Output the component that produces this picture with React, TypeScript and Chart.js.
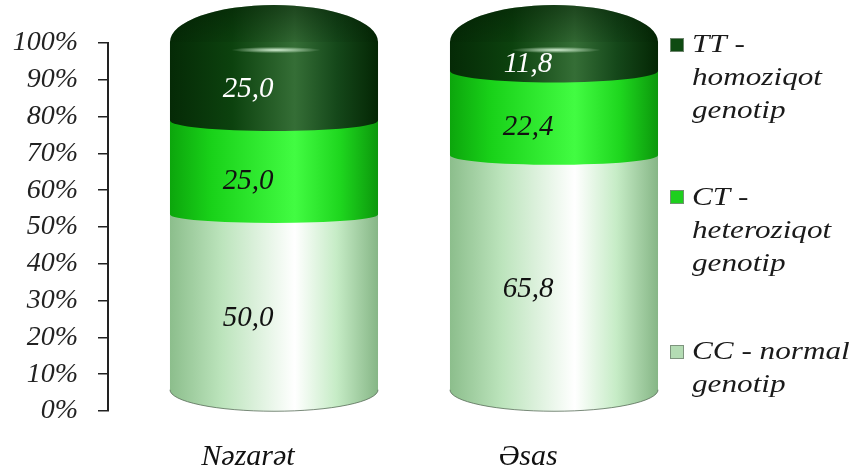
import React, { useEffect, useRef } from 'react';
import { Chart, registerables } from 'chart.js';

Chart.register(...registerables);

const categories = ['Nəzarət', 'Əsas'];
const ccValues = [50.0, 65.8];
const ctValues = [25.0, 22.4];
const ttValues = [25.0, 11.8];
const seriesNames = ['CC - normal genotip', 'CT - heteroziqot genotip', 'TT - homoziqot genotip'];
const legendLines = [
  ['TT -', 'homoziqot', 'genotip'],
  ['CT -', 'heteroziqot', 'genotip'],
  ['CC - normal', 'genotip'],
];
const legendBaselines = [
  [52, 85, 118],
  [205, 238, 271],
  [359, 392],
];
const legendMarkerY = [45, 197, 352];
const legendColors = ['#0f4a12', '#1ecf1e', '#b4dcb4'];

const DEPTH = 26;
const SERIF = "'Liberation Serif', 'Times New Roman', serif";

const stops: Array<Array<[number, string]>> = [
  [[0, '#8cbe8c'], [0.25, '#bce4bc'], [0.6, '#ffffff'], [0.8, '#c6ecc6'], [1, '#86b686']],
  [[0, '#0ca60c'], [0.2, '#19d219'], [0.6, '#42fc42'], [0.82, '#1ed61e'], [1, '#0c980c']],
  [[0, '#052a06'], [0.3, '#0c420e'], [0.6, '#356e36'], [0.8, '#15481a'], [1, '#042604']],
];
const textColors = ['#111', '#111', '#ffffff'];

function ryFor(v: number) {
  return v < 45 ? 8 + 0.3 * (45 - v) : 8 + 0.08 * (v - 45);
}

const cylinderPlugin = {
  id: 'cylinders',
  afterDatasetsDraw(chart: any) {
    const ctx = chart.ctx as CanvasRenderingContext2D;
    const n = chart.data.labels.length;
    const nd = chart.data.datasets.length;
    for (let i = 0; i < n; i++) {
      let cum = 0;
      for (let d = 0; d < nd; d++) {
        const el = chart.getDatasetMeta(d).data[i] as any;
        const val = chart.data.datasets[d].data[i] as number;
        const cx = el.x + DEPTH;
        const rx = el.width / 2;
        const vb = cum;
        const vt = cum + val;
        cum = vt;
        const ryb = ryFor(vb);
        const frontB = vb === 0 ? el.base + 1 : el.base - 4;
        const cb = frontB - ryb;
        const grad = ctx.createLinearGradient(cx - rx, 0, cx + rx, 0);
        stops[d].forEach(([o, c]) => grad.addColorStop(o, c));
        ctx.save();
        ctx.beginPath();
        const isTop = d === nd - 1;
        let ct: number;
        if (isTop) {
          ct = el.y - 1;
          ctx.moveTo(cx - rx, ct);
          ctx.lineTo(cx - rx, cb);
          ctx.ellipse(cx, cb, rx, ryb, 0, Math.PI, 0, true);
          ctx.lineTo(cx + rx, ct);
          ctx.ellipse(cx, ct, rx, 37, 0, 0, Math.PI, true);
        } else {
          const ryt = ryFor(vt);
          ct = el.y - 4 - ryt;
          ctx.moveTo(cx - rx, ct);
          ctx.lineTo(cx - rx, cb);
          ctx.ellipse(cx, cb, rx, ryb, 0, Math.PI, 0, true);
          ctx.lineTo(cx + rx, ct);
          ctx.ellipse(cx, ct, rx, ryt, 0, 0, Math.PI, true);
        }
        ctx.closePath();
        ctx.fillStyle = grad;
        ctx.fill();
        if (vb === 0) {
          ctx.beginPath();
          ctx.ellipse(cx, cb, rx, ryb, 0, Math.PI, 0, true);
          ctx.strokeStyle = 'rgba(90,110,90,0.8)';
          ctx.lineWidth = 1;
          ctx.stroke();
        }
        if (isTop) {
          ctx.beginPath();
          ctx.ellipse(cx, ct, rx, 37, 0, 0, Math.PI, true);
          ctx.closePath();
          const vg = ctx.createLinearGradient(0, ct - 37, 0, ct + 8);
          vg.addColorStop(0, 'rgba(0,20,0,0.45)');
          vg.addColorStop(1, 'rgba(0,20,0,0)');
          ctx.fillStyle = vg;
          ctx.fill();
          ctx.save();
          ctx.translate(cx + 2, ct + 8);
          ctx.scale(1, 0.07);
          const rg = ctx.createRadialGradient(0, 0, 0, 0, 0, 45);
          rg.addColorStop(0, 'rgba(230,255,230,0.9)');
          rg.addColorStop(1, 'rgba(230,255,230,0)');
          ctx.fillStyle = rg;
          ctx.beginPath();
          ctx.arc(0, 0, 45, 0, Math.PI * 2);
          ctx.fill();
          ctx.restore();
        }
        ctx.restore();
      }
    }
    ctx.save();
    ctx.font = `italic 29px ${SERIF}`;
    ctx.textAlign = 'center';
    ctx.textBaseline = 'middle';
    for (let d = 0; d < nd; d++) {
      const meta = chart.getDatasetMeta(d);
      meta.data.forEach((el: any, i: number) => {
        const val = chart.data.datasets[d].data[i] as number;
        ctx.fillStyle = textColors[d];
        ctx.fillText(val.toFixed(1).replace('.', ','), el.x, (el.y + el.base) / 2);
      });
    }
    ctx.restore();
  },
  afterDraw(chart: any) {
    const ctx = chart.ctx as CanvasRenderingContext2D;
    ctx.save();
    legendLines.forEach((lines, g) => {
      const my = legendMarkerY[g];
      ctx.fillStyle = legendColors[g];
      ctx.fillRect(670, my - 7, 14, 14);
      ctx.strokeStyle = 'rgba(120,140,120,0.9)';
      ctx.lineWidth = 1;
      ctx.strokeRect(670.5, my - 6.5, 13, 13);
      ctx.font = `italic 26px ${SERIF}`;
      ctx.fillStyle = '#1a1a1a';
      ctx.textAlign = 'left';
      ctx.textBaseline = 'alphabetic';
      lines.forEach((t, k) => {
        ctx.save();
        ctx.translate(692, legendBaselines[g][k]);
        ctx.scale(1.2, 1);
        ctx.fillText(t, 0, 0);
        ctx.restore();
      });
    });
    ctx.restore();
  },
};

export default function App() {
  const ref = useRef<HTMLCanvasElement>(null);
  useEffect(() => {
    if (!ref.current) return;
    const chart = new Chart(ref.current, {
      type: 'bar',
      data: {
        labels: categories,
        datasets: [
          { label: seriesNames[0], data: ccValues, backgroundColor: 'rgba(0,0,0,0)' },
          { label: seriesNames[1], data: ctValues, backgroundColor: 'rgba(0,0,0,0)' },
          { label: seriesNames[2], data: ttValues, backgroundColor: 'rgba(0,0,0,0)' },
        ],
      },
      options: {
        responsive: false,
        animation: false,
        events: [],
        layout: { padding: { left: 0, top: 43, right: 195, bottom: 0 } },
        datasets: { bar: { barPercentage: 0.743, categoryPercentage: 1.0 } },
        plugins: { legend: { display: false }, tooltip: { enabled: false } },
        scales: {
          x: {
            stacked: true,
            grid: { display: false },
            border: { display: false },
            ticks: { padding: 20, color: '#111', font: { family: SERIF, style: 'italic', size: 30 } },
            afterFit: (s: any) => { s.height = 55; },
          },
          y: {
            stacked: true,
            min: 0,
            max: 100,
            grid: { drawOnChartArea: false, drawTicks: true, tickLength: 10, color: '#222', lineWidth: 1.5 },
            border: { display: true, color: '#222', width: 2 },
            ticks: {
              stepSize: 10,
              padding: 20,
              color: '#222',
              font: { family: SERIF, style: 'italic', size: 28 },
              callback: (v: any) => `${v}%`,
            },
            afterFit: (s: any) => { s.width = 108; },
          },
        },
      },
      plugins: [cylinderPlugin],
    });
    return () => chart.destroy();
  }, []);
  return (
    <div style={{ position: 'absolute', left: 0, top: 0, width: 863, height: 466, background: '#fff' }}>
      <canvas ref={ref} width={863} height={466} style={{ width: 863, height: 466 }} />
    </div>
  );
}
